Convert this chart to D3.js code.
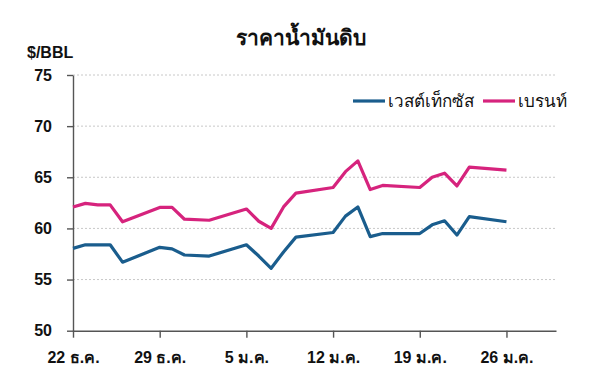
<!DOCTYPE html>
<html>
<head>
<meta charset="utf-8">
<script src="https://cdn.jsdelivr.net/npm/d3@7"></script>
<style>
  body { margin: 0; background: #fff; }
  svg { font-family: "Liberation Sans", "Noto Sans", sans-serif; }
  .grid line { stroke: #c8c8c8; stroke-dasharray: 2,2; }
  .axis path, .axis line { stroke: #555; stroke-width: 1.4; }
  .axis text { font-size: 16px; font-weight: bold; fill: #111; }
</style>
</head>
<body>
<div id="chart"></div>
<script>
var dates = ["2025-12-22", "2025-12-23", "2025-12-24", "2025-12-25", "2025-12-26",
  "2025-12-29", "2025-12-30", "2025-12-31", "2026-01-02",
  "2026-01-05", "2026-01-06", "2026-01-07", "2026-01-08", "2026-01-09",
  "2026-01-12", "2026-01-13", "2026-01-14", "2026-01-15", "2026-01-16",
  "2026-01-19", "2026-01-20", "2026-01-21", "2026-01-22", "2026-01-23",
  "2026-01-26"];
var wti = [58.05, 58.4, 58.4, 58.4, 56.7,
  58.15, 58.0, 57.4, 57.3,
  58.4, 57.3, 56.1, 57.7, 59.15,
  59.6, 61.2, 62.1, 59.2, 59.5,
  59.5, 60.35, 60.75, 59.35, 61.15,
  60.65];
var brent = [62.1, 62.45, 62.3, 62.3, 60.65,
  62.05, 62.05, 60.9, 60.8,
  61.9, 60.7, 60.0, 62.1, 63.45,
  64.0, 65.55, 66.6, 63.8, 64.2,
  64.0, 65.0, 65.4, 64.15, 66.0,
  65.7];
var tickDates = ["2025-12-22", "2025-12-29", "2026-01-05", "2026-01-12", "2026-01-19", "2026-01-26"];
var tickLabels = ["22 ธ.ค.", "29 ธ.ค.", "5 ม.ค.", "12 ม.ค.", "19 ม.ค.", "26 ม.ค."];
var yTicks = [50, 55, 60, 65, 70, 75];
var seriesNames = ["เวสต์เท็กซัส", "เบรนท์"];
var colors = ["#1a5d8d", "#d6237d"];

var parse = d3.timeParse("%Y-%m-%d");
var width = 600, height = 391;

var svg = d3.select("#chart").append("svg")
    .attr("width", width)
    .attr("height", height);

var x = d3.scaleTime()
    .domain([parse("2025-12-22"), parse("2026-01-30")])
    .range([73, 556]);

var y = d3.scaleLinear()
    .domain([50, 75])
    .range([330.7, 75]);

// gridlines
svg.append("g")
    .attr("class", "grid")
    .selectAll("line")
    .data(yTicks.slice(1))
    .enter().append("line")
    .attr("x1", x.range()[0])
    .attr("x2", x.range()[1])
    .attr("y1", function (d) { return y(d); })
    .attr("y2", function (d) { return y(d); });

// y axis
svg.append("g")
    .attr("class", "axis")
    .attr("transform", "translate(73,0)")
    .call(d3.axisLeft(y).tickValues(yTicks).tickSize(6).tickPadding(15).tickSizeOuter(0));

// x axis
svg.append("g")
    .attr("class", "axis")
    .attr("transform", "translate(0," + y(50) + ")")
    .call(d3.axisBottom(x)
        .tickValues(tickDates.map(parse))
        .tickFormat(function (d, i) { return tickLabels[i]; })
        .tickSize(7)
        .tickPadding(14)
        .tickSizeOuter(0));

// lines
var line = d3.line()
    .x(function (d) { return x(d.date); })
    .y(function (d) { return y(d.value); });

[wti, brent].forEach(function (vals, k) {
    var data = vals.map(function (v, i) { return {date: parse(dates[i]), value: v}; });
    svg.append("path")
        .datum(data)
        .attr("fill", "none")
        .attr("stroke", colors[k])
        .attr("stroke-width", 3.2)
        .attr("stroke-linejoin", "round")
        .attr("d", line);
});

// title + unit
svg.append("text")
    .attr("x", 301)
    .attr("y", 45)
    .attr("text-anchor", "middle")
    .attr("font-size", 21)
    .attr("font-weight", "bold")
    .attr("fill", "#111")
    .text("ราคาน้ำมันดิบ");

svg.append("text")
    .attr("x", 27)
    .attr("y", 58)
    .attr("font-size", 16)
    .attr("font-weight", "bold")
    .attr("fill", "#111")
    .text("$/BBL");

// legend
var legendX = [353, 483];
seriesNames.forEach(function (name, k) {
    var g = svg.append("g").attr("transform", "translate(" + legendX[k] + ",101)");
    g.append("line")
        .attr("x1", 0).attr("x2", 32)
        .attr("stroke", colors[k])
        .attr("stroke-width", 3.2);
    g.append("text")
        .attr("x", 35)
        .attr("y", 6)
        .attr("font-size", 17)
        .attr("fill", "#111")
        .text(name);
});
</script>
</body>
</html>
